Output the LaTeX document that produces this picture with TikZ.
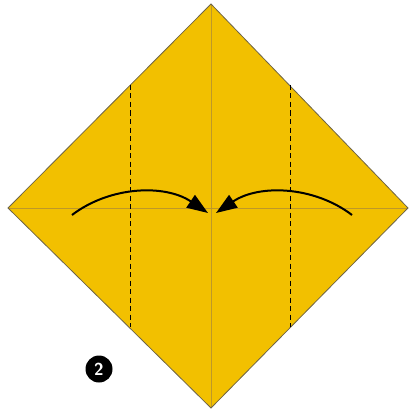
\documentclass[tikz,border=0pt]{standalone}
\usetikzlibrary{arrows.meta}
\definecolor{paper}{RGB}{242,192,0}
\definecolor{crease}{RGB}{190,152,40}
\definecolor{edge}{RGB}{110,100,70}
\tikzset{
  fold/.style={draw=black, line width=0.8pt, dash pattern=on 5pt off 3.5pt},
  creaseline/.style={draw=crease, line width=1pt},
  movearrow/.style={draw=black, line width=2pt, -{Triangle[length=21pt,width=15pt]}},
}
\begin{document}
\begin{tikzpicture}[x=1pt,y=-1pt]
\useasboundingbox (0,0) rectangle (408,409);
\coordinate (T) at (211,4);
\coordinate (L) at (8,208);
\coordinate (R) at (408,208);
\coordinate (B) at (211,408);
\fill[paper] (T) -- (R) -- (B) -- (L) -- cycle;
\draw[creaseline] (T) -- (B);
\draw[creaseline] (L) -- (R);
\draw[edge, line width=0.8pt] (T) -- (R) -- (B) -- (L) -- cycle;
\coordinate (d1a) at (130,85);
\coordinate (d1b) at (130,327);
\coordinate (d2a) at (290,85);
\coordinate (d2b) at (290,327);
\draw[fold] (d1a) -- (d1b);
\draw[fold] (d2a) -- (d2b);
\coordinate (a1s) at (72,215);
\coordinate (a1e) at (208,213);
\coordinate (a2s) at (352,215);
\coordinate (a2e) at (216,213);
\draw[movearrow] (a1s) .. controls (110,186) and (165,184) .. (a1e);
\draw[movearrow] (a2s) .. controls (314,186) and (259,184) .. (a2e);
\node[circle, fill=black, inner sep=0pt, minimum size=27pt, text=white, font=\sffamily\bfseries\LARGE] (num) at (99,369) {2};
\end{tikzpicture}
\end{document}
